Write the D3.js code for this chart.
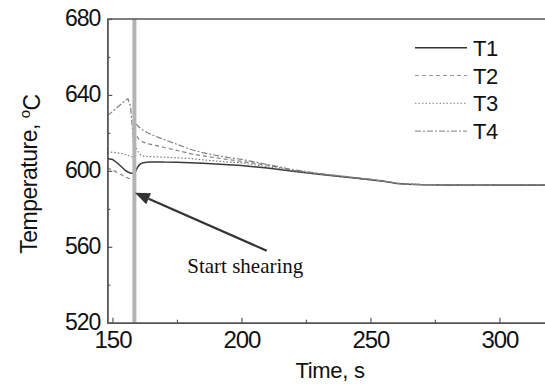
<!DOCTYPE html>
<html>
<head>
<meta charset="utf-8">
<script src="https://cdn.jsdelivr.net/npm/d3@7"></script>
<style>
  html, body { margin: 0; padding: 0; background: #fff; }
  svg { display: block; font-family: 'Liberation Sans', Arial, sans-serif; }
</style>
</head>
<body>
<div id="chart"></div>
<script>
// --- data ---
const time = [148, 150, 152, 154, 155, 156, 157, 158, 158.5, 158.5, 159, 160, 161, 162, 164, 166, 168, 170,
  175, 180, 185, 190, 195, 200, 210, 220, 230, 240, 250, 255, 260, 265, 270, 280, 290, 300, 310, 320];
const t1 = [606.5, 606, 604, 601.5, 600.2, 599.4, 598.8, 598.7, 598.7, 598, 600, 602.5, 603.8, 604.3, 604.6, 604.7, 604.7, 604.6,
  604.5, 604.3, 604, 603.6, 603.2, 602.8, 601.5, 599.8, 598.2, 596.8, 595.3, 594.5, 593.4, 592.9, 592.7, 592.6, 592.5, 592.6, 592.6, 592.6];
const t2 = [601.5, 600.5, 599, 597.5, 596.8, 596.2, 595.7, 595.5, 595.5, 621, 619.5, 617, 615.8, 615.1, 614.2, 613.6, 613, 612.3,
  610.8, 609.1, 607.9, 606.9, 605.9, 605, 603, 600.3, 598.5, 597, 595.4, 594.6, 593.5, 593, 592.8, 592.7, 592.6, 592.7, 592.7, 592.7];
const t3 = [610, 609.8, 609.5, 609, 608.6, 608.1, 607.6, 607.2, 607, 615, 613, 610, 608.3, 607.8, 607.5, 607.4, 607.3, 607.2,
  606.9, 606.5, 605.8, 605.2, 604.6, 604.2, 602.2, 600, 598.3, 596.9, 595.4, 594.6, 593.5, 593, 592.8, 592.7, 592.6, 592.7, 592.7, 592.7];
const t4 = [629.2, 631.2, 633.6, 635.9, 637, 638, 634, 618, 602, 626, 624.8, 623.5, 622.2, 621.2, 619.8, 618.6, 617.5, 616.5,
  614, 611.4, 609.6, 608.2, 607, 606, 603.4, 600.6, 598.7, 597.1, 595.6, 594.8, 593.6, 593, 592.8, 592.7, 592.7, 592.8, 592.8, 592.8];
const seriesNames = ['T1', 'T2', 'T3', 'T4'];
const seriesValues = [t1, t2, t3, t4];
const xMajorTicks = [150, 200, 250, 300];
const xMinorTicks = [175, 225, 275];
const yMajorTicks = [520, 560, 600, 640, 680];
const yMinorTicks = [540, 580, 620, 660];
const shearTime = 158.5;
const arrowTip = [158.7, 588.5];
const arrowTail = [209.8, 557.9];
const noteText = 'Start shearing';

// --- styles ---
const styles = [
  { color: '#3a3a3a', width: 1.5, dash: null },
  { color: '#808080', width: 1.2, dash: '4,3' },
  { color: '#777', width: 1.2, dash: '1.5,2' },
  { color: '#808080', width: 1.2, dash: '6,2,2,2' }
];

const W = 545, H = 384;
const x = d3.scaleLinear().domain([148, 320]).range([107.3, 551]);
const y = d3.scaleLinear().domain([520, 680]).range([322.7, 19]);

const svg = d3.select('#chart').append('svg').attr('width', W).attr('height', H);

// curves
const line = d3.line().x((d, i) => x(time[i])).y(d => y(d));
seriesValues.forEach((vals, i) => {
  const s = styles[i];
  svg.append('path').datum(vals)
    .attr('fill', 'none').attr('stroke', s.color).attr('stroke-width', s.width)
    .attr('stroke-dasharray', s.dash).attr('stroke-linejoin', 'round')
    .attr('d', line);
});

// shear marker bar
svg.append('line')
  .attr('x1', x(shearTime)).attr('x2', x(shearTime))
  .attr('y1', y(680)).attr('y2', y(520))
  .attr('stroke', '#b4b4b4').attr('stroke-width', 4);

// axes (ticks inward)
const xAxis = svg.append('g').attr('transform', `translate(0,${y(520)})`)
  .call(d3.axisBottom(x).tickValues(xMajorTicks).tickSizeInner(-5).tickSizeOuter(0).tickPadding(8));
svg.append('g').attr('transform', `translate(0,${y(520)})`)
  .call(d3.axisBottom(x).tickValues(xMinorTicks).tickSizeInner(-3).tickSizeOuter(0).tickFormat(''));
const yAxis = svg.append('g').attr('transform', `translate(${x(148)},0)`)
  .call(d3.axisLeft(y).tickValues(yMajorTicks).tickSizeInner(-5).tickSizeOuter(0).tickPadding(7));
svg.append('g').attr('transform', `translate(${x(148)},0)`)
  .call(d3.axisLeft(y).tickValues(yMinorTicks).tickSizeInner(-3).tickSizeOuter(0).tickFormat(''));

svg.selectAll('.domain').attr('stroke', '#555').attr('stroke-width', 1.5);
svg.selectAll('.tick line').attr('stroke', '#555').attr('stroke-width', 1.2);
xAxis.selectAll('text').style('font-size', '24px').style('letter-spacing', '-1px')
  .style('font-family', "'Liberation Sans', Arial, sans-serif").attr('fill', '#111').attr('dy', '0.71em');
yAxis.selectAll('text').style('font-size', '23px').style('letter-spacing', '-1px')
  .style('font-family', "'Liberation Sans', Arial, sans-serif").attr('fill', '#111').attr('dy', '0.3em');

// top frame
svg.append('line').attr('x1', x(148)).attr('x2', W).attr('y1', y(680)).attr('y2', y(680))
  .attr('stroke', '#555').attr('stroke-width', 1.5);

// axis titles
svg.append('text').attr('x', 330).attr('y', 378).attr('text-anchor', 'middle')
  .style('font-size', '22px').style('letter-spacing', '-0.3px').attr('fill', '#111').text('Time, s');
const yt = svg.append('text').attr('transform', 'translate(36.5,174) rotate(-90)').attr('text-anchor', 'middle')
  .style('font-size', '23px').style('letter-spacing', '-0.5px').attr('fill', '#111');
yt.append('tspan').text('Temperature, ');
yt.append('tspan').attr('dy', '-0.45em').style('font-size', '15px').text('o');
yt.append('tspan').attr('dy', '0.45em').text('C');

// legend
const legend = svg.append('g');
seriesNames.forEach((name, i) => {
  const ly = 47.7 + i * 27.8;
  const s = styles[i];
  legend.append('line').attr('x1', 415).attr('x2', 467).attr('y1', ly).attr('y2', ly)
    .attr('stroke', i === 0 ? '#333' : '#999').attr('stroke-width', s.width)
    .attr('stroke-dasharray', s.dash);
  legend.append('text').attr('x', 473).attr('y', ly + 8).style('font-size', '22px')
    .style('letter-spacing', '-0.5px').attr('fill', '#111').text(name);
});

// annotation arrow
const tip = [x(arrowTip[0]), y(arrowTip[1])];
const tail = [x(arrowTail[0]), y(arrowTail[1])];
const ang = Math.atan2(tip[1] - tail[1], tip[0] - tail[0]);
const headLen = 15, headW = 6;
const base = [tip[0] - headLen * Math.cos(ang), tip[1] - headLen * Math.sin(ang)];
svg.append('line').attr('x1', tail[0]).attr('y1', tail[1]).attr('x2', base[0]).attr('y2', base[1])
  .attr('stroke', '#333').attr('stroke-width', 2.2);
svg.append('path')
  .attr('d', d3.line()([
    tip,
    [base[0] + headW * Math.sin(ang), base[1] - headW * Math.cos(ang)],
    [base[0] - headW * Math.sin(ang), base[1] + headW * Math.cos(ang)]
  ]) + 'Z')
  .attr('fill', '#333');
svg.append('text').attr('x', x(179)).attr('y', y(546.3))
  .style('font-family', "'Liberation Serif', 'Times New Roman', serif").style('font-size', '21px')
  .attr('fill', '#111').text(noteText);
</script>
</body>
</html>
